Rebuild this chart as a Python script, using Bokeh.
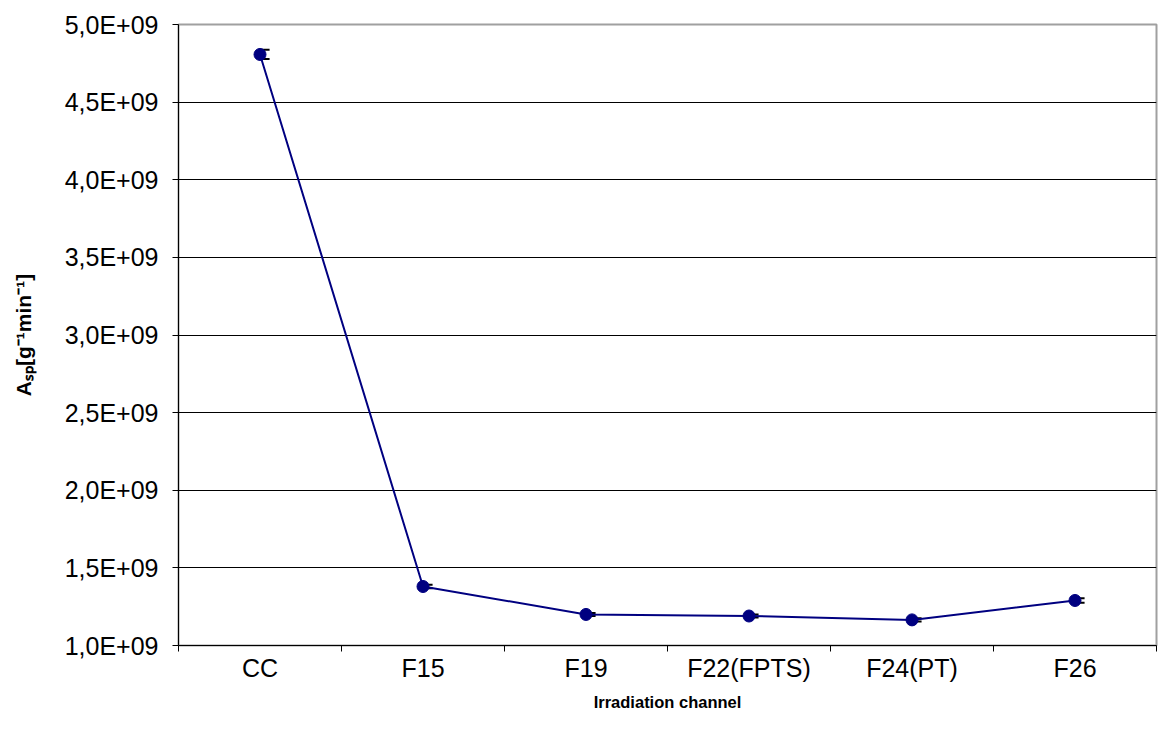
from bokeh.plotting import figure
from bokeh.models import ColumnDataSource, FixedTicker, Range1d, Whisker, TeeHead
from bokeh.transform import dodge
from bokeh.embed import file_html
from bokeh.resources import INLINE

# ---- data ----
channels = ["CC", "F15", "F19", "F22(FPTS)", "F24(PT)", "F26"]
activity = [4.807e9, 1.38e9, 1.20e9, 1.19e9, 1.165e9, 1.29e9]
errors = [0.03e9, 0.012e9, 0.01e9, 0.01e9, 0.01e9, 0.015e9]
y_ticks = [1.0e9, 1.5e9, 2.0e9, 2.5e9, 3.0e9, 3.5e9, 4.0e9, 4.5e9, 5.0e9]
y_tick_labels = ["1,0E+09", "1,5E+09", "2,0E+09", "2,5E+09", "3,0E+09",
                 "3,5E+09", "4,0E+09", "4,5E+09", "5,0E+09"]
x_title = "Irradiation channel"
y_title = "A\u209b\u209a[g\u207b\u00b9min\u207b\u00b9]"

xs = [i + 0.5 for i in range(len(channels))]
src = ColumnDataSource(dict(
    x=xs, y=activity,
    upper=[v + e for v, e in zip(activity, errors)],
    lower=[v - e for v, e in zip(activity, errors)],
))

FONT = "Liberation Sans"

p = figure(frame_width=978, frame_height=621, output_backend="svg",
           toolbar_location=None,
           x_range=Range1d(0, len(channels)), y_range=Range1d(y_ticks[0], y_ticks[-1]),
           min_border_left=178, min_border_right=3, min_border_top=24, min_border_bottom=95)
p.background_fill_color = "white"
p.border_fill_color = "white"
p.outline_line_color = "#a0a0a0"
p.outline_line_width = 2

# x axis
xa = p.xaxis[0]
xa.ticker = FixedTicker(ticks=xs, minor_ticks=list(range(0, len(channels) + 1)))
xa.major_label_overrides = {x: c for x, c in zip(xs, channels)}
xa.major_tick_out = 0
xa.major_tick_in = 0
xa.minor_tick_out = 6
xa.minor_tick_in = 0
xa.minor_tick_line_color = "black"
xa.axis_line_color = "black"
xa.major_label_text_font = FONT
xa.major_label_text_font_size = "25px"
xa.major_label_text_color = "black"
xa.major_label_standoff = 2
xa.axis_label = x_title
xa.axis_label_text_font = FONT
xa.axis_label_text_font_size = "16.5px"
xa.axis_label_text_font_style = "bold"
xa.axis_label_text_color = "black"
xa.axis_label_standoff = 8

# y axis
ya = p.yaxis[0]
ya.ticker = FixedTicker(ticks=y_ticks, minor_ticks=[])
ya.major_label_overrides = {t: l for t, l in zip(y_ticks, y_tick_labels)}
ya.major_tick_out = 6
ya.major_tick_in = 0
ya.major_tick_line_color = "black"
ya.axis_line_color = "black"
ya.major_label_text_font = FONT
ya.major_label_text_font_size = "25px"
ya.major_label_text_color = "black"
ya.major_label_standoff = 14
ya.axis_label = y_title
ya.axis_label_text_font = FONT
ya.axis_label_text_font_size = "21px"
ya.axis_label_text_font_style = "bold"
ya.axis_label_text_color = "black"
ya.axis_label_standoff = 27

p.xgrid.visible = False
p.ygrid.ticker = FixedTicker(ticks=y_ticks[1:-1], minor_ticks=[])
p.ygrid.grid_line_color = "black"
p.ygrid.grid_line_width = 1

# series
p.line("x", "y", source=src, line_color="#000080", line_width=2)
p.add_layout(Whisker(source=src, base=dodge("x", 0.025), upper="upper", lower="lower",
                     line_color="black", line_width=1,
                     upper_head=TeeHead(size=11, line_color="black", line_width=2),
                     lower_head=TeeHead(size=11, line_color="black", line_width=2)))
p.scatter("x", "y", source=src, size=12, fill_color="#000080", line_color="#000080")

open("out.html", "w").write(file_html(p, INLINE))
